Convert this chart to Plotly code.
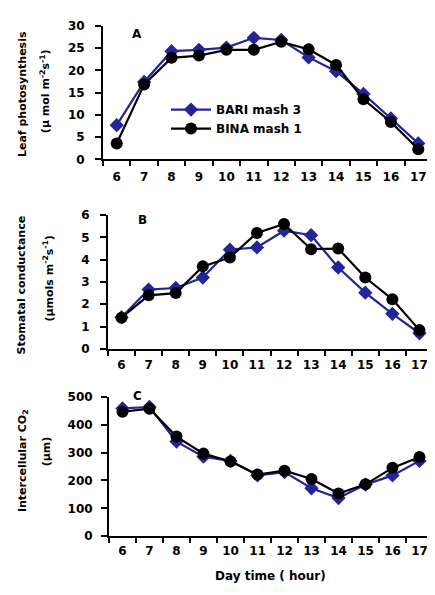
import plotly.graph_objects as go

hours = ["6", "7", "8", "9", "10", "11", "12", "13", "14", "15", "16", "17"]

# Panel A: Leaf photosynthesis
pn_bari = [7.7, 17.4, 24.3, 24.6, 25.1, 27.3, 26.8, 22.9, 19.8, 14.7, 9.2, 3.6]
pn_bina = [3.6, 16.8, 22.8, 23.3, 24.6, 24.6, 26.4, 24.7, 21.2, 13.5, 8.4, 2.3]

# Panel B: Stomatal conductance
gs_bari = [1.42, 2.66, 2.73, 3.2, 4.45, 4.55, 5.3, 5.1, 3.65, 2.52, 1.57, 0.7]
gs_bina = [1.4, 2.4, 2.5, 3.7, 4.1, 5.2, 5.6, 4.47, 4.5, 3.2, 2.22, 0.84]

# Panel C: Intercellular CO2
ci_bari = [458, 463, 339, 285, 270, 218, 230, 172, 137, 185, 218, 270]
ci_bina = [446, 457, 357, 296, 268, 221, 235, 205, 153, 186, 245, 284]

yticks_a = [0, 5, 10, 15, 20, 25, 30]
yticks_b = [0, 1, 2, 3, 4, 5, 6]
yticks_c = [0, 100, 200, 300, 400, 500]

series_names = ["BARI mash 3", "BINA mash 1"]
BLUE = "#23239a"
BLACK = "#000000"
FONT = "DejaVu Sans"

# the page body adds an 8px offset; figure is sized to fill the rest of the window
OFF = 8
W, H = 435 - OFF, 595 - OFF


def px_x(p):
    return (p - OFF) / W


def px_y(p):
    return 1 - (p - OFF) / H


fig = go.Figure()

panels = [
    ("", pn_bari, pn_bina, True),
    ("2", gs_bari, gs_bina, False),
    ("3", ci_bari, ci_bina, False),
]
for suf, bari, bina, show in panels:
    fig.add_trace(go.Scatter(
        x=hours, y=bari, name=series_names[0], mode="lines+markers",
        line=dict(color=BLUE, width=2.2),
        marker=dict(symbol="diamond", size=11, color=BLUE),
        xaxis="x" + suf, yaxis="y" + suf, showlegend=show,
    ))
    fig.add_trace(go.Scatter(
        x=hours, y=bina, name=series_names[1], mode="lines+markers",
        line=dict(color=BLACK, width=2.2),
        marker=dict(symbol="circle", size=12, color=BLACK),
        xaxis="x" + suf, yaxis="y" + suf, showlegend=show,
    ))

tickfont = dict(family=FONT, size=12, color="black", weight="bold")


def xaxis(dom, anchor, standoff):
    return dict(
        domain=dom, anchor=anchor, type="category",
        tickson="boundaries", ticks="outside", ticklen=5, tickwidth=2,
        tickcolor="black", showline=True, linecolor="black", linewidth=2,
        showgrid=False, zeroline=False, tickfont=tickfont,
        range=[-0.5, 11.5], ticklabelstandoff=standoff,
    )


def yaxis(dom, anchor, rng, tv, standoff):
    return dict(
        domain=dom, anchor=anchor, range=rng, tickvals=tv,
        ticks="outside", ticklen=6, tickwidth=2, tickcolor="black",
        showline=True, linecolor="black", linewidth=2,
        showgrid=False, zeroline=False, tickfont=tickfont,
        ticklabelstandoff=standoff,
    )


fig.update_layout(
    width=W, height=H,
    margin=dict(l=0, r=0, t=0, b=0),
    paper_bgcolor="white", plot_bgcolor="white",
    font=dict(family=FONT, color="black"),
    xaxis=xaxis([px_x(103), px_x(432)], "y", 5),
    yaxis=yaxis([px_y(156), px_y(19)], "x", [0, 30], yticks_a, 8),
    xaxis2=xaxis([px_x(108), px_x(433)], "y2", 4),
    yaxis2=yaxis([px_y(350), px_y(213)], "x2", [0, 6], yticks_b, 8),
    xaxis3=xaxis([px_x(109), px_x(433)], "y3", 2),
    yaxis3=yaxis([px_y(542), px_y(399)], "x3", [0, 500], yticks_c, 6),
    legend=dict(
        x=px_x(166), y=px_y(90), xanchor="left", yanchor="top",
        bgcolor="rgba(0,0,0,0)",
        font=dict(family=FONT, size=12, color="black", weight="bold"),
        tracegroupgap=0, itemwidth=40,
    ),
    showlegend=True,
)

ann_font = dict(family=FONT, size=11, color="black", weight="bold")
title_lines = [
    ("Leaf photosynthesis", 22, 89),
    ("(µ mol m<sup>-2</sup>s<sup>-1</sup>)", 45, 86),
    ("Stomatal conductance", 21, 285),
    ("(µmols m<sup>-2</sup>s<sup>-1</sup>)", 49, 278),
    ("Intercellular CO<sub>2</sub>", 23, 465),
    ("(µm)", 46, 455),
]
for text, x, y in title_lines:
    fig.add_annotation(
        text=text, x=px_x(x), y=px_y(y), xref="paper", yref="paper",
        textangle=-90, showarrow=False, font=ann_font, align="center",
        xanchor="center", yanchor="middle",
    )

for lab, x, y in [("A", 137, 27), ("B", 142, 218), ("C", 137, 398)]:
    fig.add_annotation(
        text=lab, x=px_x(x), y=px_y(y), xref="paper", yref="paper",
        showarrow=False, font=dict(family=FONT, size=12, color="black", weight="bold"),
        xanchor="center", yanchor="middle",
    )

fig.add_annotation(
    text="Day time ( hour)", x=px_x(270), y=px_y(583), xref="paper", yref="paper",
    showarrow=False, font=dict(family=FONT, size=12, color="black", weight="bold"),
    xanchor="center", yanchor="middle",
)

fig.write_html("out.html")
